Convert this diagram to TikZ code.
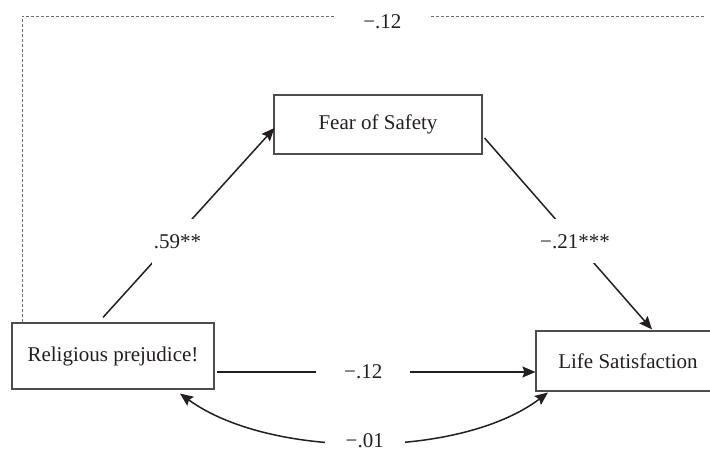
\documentclass[tikz,border=0pt]{standalone}
\usepackage{fontspec}
\setmainfont{Liberation Serif}
\usetikzlibrary{arrows.meta,calc}
\definecolor{ink}{HTML}{231F20}
\tikzset{
  box/.style={draw=ink!80, line width=1.1pt, fill=white, inner sep=0pt,
    font=\fontsize{21}{25}\selectfont, text=ink},
  arr/.style={draw=ink, line width=1.5pt, -{Stealth[length=13pt,width=11pt,inset=2pt]}},
  dblarr/.style={draw=ink, line width=1.5pt, {Stealth[length=13pt,width=11pt,inset=2pt]}-{Stealth[length=13pt,width=11pt,inset=2pt]}},
  lab/.style={fill=white, font=\fontsize{21}{25}\selectfont, text=ink, inner sep=0pt},
  dashline/.style={draw=ink!65, line width=0.9pt, dash pattern=on 3pt off 2pt}
}
\begin{document}
\begin{tikzpicture}[x=1pt,y=-1pt]
\useasboundingbox (0,0) rectangle (710,452);

\node[box, minimum width=202pt, minimum height=66pt] (rp) at (113,356) {Religious prejudice!};
\node[box, minimum width=208pt, minimum height=59pt] (fs) at (378,124.5) {Fear of Safety};
\node[box, minimum width=184pt, minimum height=60pt] (ls) at (628,361) {Life Satisfaction};

\coordinate (dend) at (704,16);

% direct dashed path
\draw[dashline] ([shift={(11,0)}]rp.north west) |- node[lab, pos=0.764, minimum width=95pt, minimum height=20pt, yshift=-6pt]{−.12} (dend);

% a path
\draw[arr] ([shift={(-10,-5)}]rp.north) -- node[lab, pos=0.4, minimum width=52pt, minimum height=46pt, xshift=6pt]{.59**} ([shift={(1,3.5)}]fs.west);

% b path
\draw[arr] ([shift={(2,13.5)}]fs.east) -- node[lab, pos=0.54, minimum width=70pt, minimum height=44pt]{−.21***} ([shift={(24,-1)}]ls.north);

% c path
\draw[arr] ([shift={(2,16)}]rp.east) -- node[lab, pos=0.46, minimum width=94pt, minimum height=20pt]{−.12} ([shift={(0,11)}]ls.west);

% covariance
\draw[dblarr] ([shift={(67,4)}]rp.south) .. controls (270,459) and (460,459) .. node[lab, pos=0.5, minimum width=80pt, minimum height=18pt, yshift=1.5pt]{−.01} ([shift={(-80,1)}]ls.south);
\end{tikzpicture}
\end{document}
